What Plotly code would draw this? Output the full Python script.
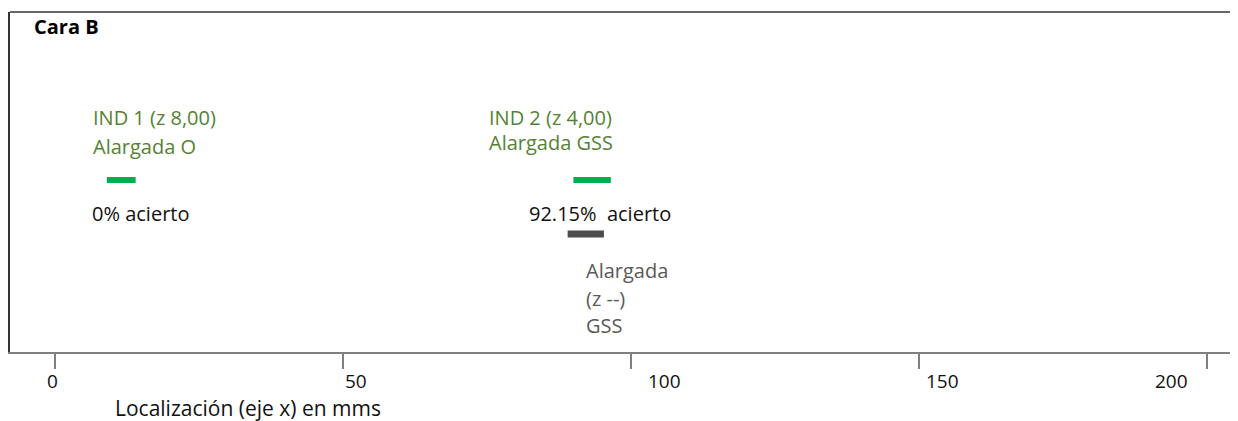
import plotly.graph_objects as go

# Indicaciones (fila superior, verde) y defecto real (fila inferior, gris)
ind_names = ["IND 1 (z 8,00)", "IND 2 (z 4,00)"]
ind_types = ["Alargada O", "Alargada GSS"]
ind_start = [9.0, 90.0]
ind_end = [14.0, 96.5]
aciertos = ["0% acierto", "92.15%  acierto"]

real_start = [89.0]
real_end = [95.3]
real_text = ["Alargada", "(z --)", "GSS"]

tick_vals = [0, 50, 100, 150, 200]
tick_text = ["0", "50", "100", "150", "200"]

GREEN_TXT = "#548235"
GREEN_BAR = "#00b050"
GRAY_BAR = "#4d4d4d"
GRAY_TXT = "#595959"
FONT = "Open Sans"
PX = 5.76  # px por mm en el eje x


def xd(px):
    # pixel de la página -> valor del eje x
    return (px - 55) / PX


def yd(py):
    # pixel de la página -> valor del eje y (filas 1 y 2)
    return 2 + (180 - py) / 54


fig = go.Figure()

xs, ys = [], []
for a, b in zip(ind_start, ind_end):
    xs += [a, b, None]
    ys += [2, 2, None]
fig.add_trace(go.Scatter(x=xs, y=ys, mode="lines", line=dict(color=GREEN_BAR, width=6),
                         hoverinfo="skip", showlegend=False))

xs, ys = [], []
for a, b in zip(real_start, real_end):
    xs += [a, b, None]
    ys += [1, 1, None]
fig.add_trace(go.Scatter(x=xs, y=ys, mode="lines", line=dict(color=GRAY_BAR, width=7),
                         hoverinfo="skip", showlegend=False))

# textos
ann = []
name_x = [xd(91), xd(487)]
type_y = [yd(146), yd(142)]
acierto_x = [xd(90), xd(527)]
for i in range(len(ind_names)):
    ann.append(dict(x=name_x[i], y=yd(117), text=ind_names[i], font=dict(color=GREEN_TXT)))
    ann.append(dict(x=name_x[i], y=type_y[i], text=ind_types[i], font=dict(color=GREEN_TXT)))
    ann.append(dict(x=acierto_x[i], y=yd(213), text=aciertos[i], font=dict(color="#111111")))
for t, py in zip(real_text, [270, 298, 325]):
    ann.append(dict(x=xd(584), y=yd(py), text=t, font=dict(color=GRAY_TXT)))
for a in ann:
    a.update(xref="x", yref="y", xanchor="left", yanchor="middle", showarrow=False)
    a["font"].update(family=FONT, size=20)
    fig.add_annotation(**a)

fig.add_annotation(x=xd(32), y=yd(26), xref="x", yref="y", text="<b>Cara B</b>",
                   showarrow=False, xanchor="left", yanchor="middle",
                   font=dict(family=FONT, size=20, color="#000000"))

# etiquetas del eje x, algo desplazadas como en el original
label_px = [52, 356, 664, 942, 1171]
for t, lp in zip(tick_text, label_px):
    fig.add_annotation(x=xd(lp), y=-29 / 340, xref="x", yref="paper", text=t,
                       showarrow=False, xanchor="center", yanchor="middle",
                       font=dict(family=FONT, size=19, color="#111111"))

fig.add_annotation(x=xd(113), y=-56 / 340, xref="x", yref="paper",
                   text="Localización (eje x) en mms", showarrow=False,
                   xanchor="left", yanchor="middle",
                   font=dict(family=FONT, size=21, color="#111111"))

# borde superior
fig.add_shape(type="line", xref="paper", yref="paper", x0=0, x1=1, y0=1, y1=1,
              line=dict(color="#333333", width=1.5))

fig.update_xaxes(range=[xd(10), xd(1238)], tickvals=tick_vals, showticklabels=False,
                 ticks="outside", ticklen=15, tickwidth=2,
                 tickcolor="#7f7f7f", showline=True, linecolor="#7f7f7f", linewidth=2,
                 showgrid=False, zeroline=False, automargin=False)
fig.update_yaxes(range=[yd(352), yd(12)], tickvals=[1, 2], automargin=False,
                 showticklabels=False, ticks="outside", ticklen=10, tickcolor="#333333",
                 showline=True, linecolor="#333333", linewidth=1.5,
                 showgrid=False, zeroline=False)

# la página tiene 8 px de margen propio
fig.update_layout(width=1230, height=413, margin=dict(l=2, r=0, t=4, b=69),
                  plot_bgcolor="white", paper_bgcolor="white", showlegend=False)

fig.write_html("out.html")
